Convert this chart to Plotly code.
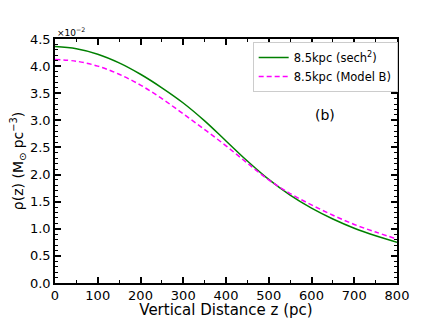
import plotly.graph_objects as go

z = [0, 50, 100, 150, 200, 250, 300, 350, 400, 450, 500, 550, 600, 650, 700, 750, 800]
rho_sech2 = [4.36, 4.32, 4.22, 4.06, 3.85, 3.60, 3.32, 2.99, 2.62, 2.25, 1.91, 1.62, 1.38, 1.18, 1.01, 0.87, 0.75]
rho_modelB = [4.12, 4.09, 4.00, 3.85, 3.65, 3.40, 3.12, 2.83, 2.53, 2.21, 1.90, 1.65, 1.44, 1.25, 1.08, 0.94, 0.81]
x_ticks = [0, 100, 200, 300, 400, 500, 600, 700, 800]
y_ticks = [0.0, 0.5, 1.0, 1.5, 2.0, 2.5, 3.0, 3.5, 4.0, 4.5]

font = "DejaVu Sans"
fig = go.Figure()
fig.add_trace(go.Scatter(x=z, y=rho_sech2, mode="lines", line=dict(color="green", width=1.5, shape="spline"),
                         name="8.5kpc (sech<sup>2</sup>)"))
fig.add_trace(go.Scatter(x=z, y=rho_modelB, mode="lines", line=dict(color="#ff00ff", width=1.5, dash="5px,3px", shape="spline"),
                         name="8.5kpc (Model B)"))

axis_common = dict(showgrid=False, zeroline=False, showline=True, linecolor="black", linewidth=1.5,
                   mirror="ticks", ticks="inside", ticklen=6, tickwidth=1.5, tickcolor="black", automargin=False,
                   tickfont=dict(family=font, size=13, color="black"))
fig.update_xaxes(range=[0, 800], tickvals=x_ticks, ticktext=[str(v) for v in x_ticks],
                 minor=dict(dtick=50, ticks="inside", ticklen=3, tickwidth=1.2, tickcolor="black"),
                 title=dict(text="Vertical Distance z (pc)", font=dict(family=font, size=15, color="black"), standoff=2),
                 **axis_common)
fig.update_yaxes(range=[0, 4.5], tickvals=y_ticks, ticktext=[f"{v:.1f}" for v in y_ticks],
                 minor=dict(dtick=0.1, ticks="inside", ticklen=3, tickwidth=1.2, tickcolor="black"),
                 title=dict(text="ρ(z) (M<sub>⊙</sub> pc<sup>−3</sup>)", font=dict(family=font, size=14, color="black"), standoff=6),
                 **axis_common)

fig.add_annotation(x=0, y=1, xref="paper", yref="paper", text="×10<sup>−2</sup>", showarrow=False,
                   xanchor="left", yanchor="bottom", font=dict(family=font, size=9, color="black"), yshift=-1)
fig.add_annotation(x=0.79, y=0.69, xref="paper", yref="paper", text="(b)", showarrow=False,
                   xanchor="center", yanchor="middle", font=dict(family=font, size=14, color="black"))

# page body adds an 8px offset, so the figure is sized to fit the remaining window
fig.update_layout(width=435, height=311, margin=dict(l=47, r=46, t=31, b=36, autoexpand=False),
                  paper_bgcolor="white", plot_bgcolor="white",
                  legend=dict(x=0.578, y=0.988, xanchor="left", yanchor="top", bgcolor="white",
                              bordercolor="#cccccc", borderwidth=1, font=dict(family=font, size=11.5, color="black"),
                              tracegroupgap=0, itemwidth=30),
                  showlegend=True)
fig.write_html("out.html")
